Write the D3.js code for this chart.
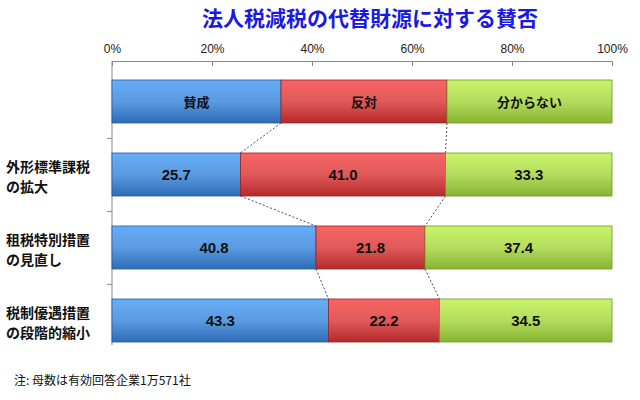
<!DOCTYPE html><html><head><meta charset="utf-8">
<script src="https://cdn.jsdelivr.net/npm/d3@7"></script>
<style>body{margin:0;background:#fff;font-family:"Noto Sans CJK JP",sans-serif}</style></head><body>
<svg id="c" width="640" height="400"></svg>
<script>
const categories=["", "外形標準課税\nの拡大","租税特別措置\nの見直し","税制優遇措置\nの段階的縮小"];
const seriesNames=["賛成","反対","分からない"];
const agree=[33.8,25.7,40.8,43.3];
const oppose=[33.2,41.0,21.8,22.2];
const unknown=[33.0,33.3,37.4,34.5];
const ticks=[0,20,40,60,80,100];
const colors=[["#5b9be0","#2e6cb8"],["#e05a5a","#b52a2a"],["#b5dc5e","#86b431"]];
const svg=d3.select("#c");
const defs=svg.append("defs");
colors.forEach((c,i)=>{const g=defs.append("linearGradient").attr("id","g"+i).attr("x1",0).attr("y1",0).attr("x2",0).attr("y2",1);
g.append("stop").attr("offset","0").attr("stop-color",d3.color(c[0]).brighter(0.3));
g.append("stop").attr("offset","0.5").attr("stop-color",c[0]);
g.append("stop").attr("offset","1").attr("stop-color",c[1]);});
const x=d3.scaleLinear().domain([0,100]).range([112,612]);
const y=d3.scaleBand().domain(d3.range(4)).range([80,342]).paddingInner(30/73).paddingOuter(0);
svg.append("text").attr("x",370).attr("y",26).attr("text-anchor","middle").attr("fill","#1a1adf").attr("font-size",21).attr("font-weight","bold").text("法人税減税の代替財源に対する賛否");
const ax=svg.append("g").attr("transform","translate(0,61)").call(d3.axisTop(x).tickValues(ticks).tickFormat(d=>d+"%").tickSizeInner(-5).tickSizeOuter(0).tickPadding(8));
ax.select(".domain").attr("stroke","#888");ax.selectAll("line").attr("stroke","#888");
ax.selectAll("text").attr("font-size",12).attr("font-family","Liberation Sans, sans-serif").attr("fill","#222");
svg.append("line").attr("x1",112).attr("x2",112).attr("y1",61).attr("y2",345).attr("stroke","#888");
d3.range(1,4).forEach(i=>{const yy=y(i)-y.step()*0.2; svg.append("line").attr("x1",107).attr("x2",112).attr("y1",yy).attr("y2",yy).attr("stroke","#888");});
const data=d3.range(4).map(i=>{const v=[agree[i],oppose[i],unknown[i]];let c=0;return v.map((d,k)=>{const o={k,v:d,x0:c,x1:c+d};c+=d;return o;});});
for(let i=0;i<3;i++){[0,1].forEach(k=>{svg.append("line").attr("x1",x(data[i][k].x1)).attr("y1",y(i)+y.bandwidth()).attr("x2",x(data[i+1][k].x1)).attr("y2",y(i+1)).attr("stroke","#222").attr("stroke-dasharray","2,2").attr("stroke-width",0.8);});}
data.forEach((row,i)=>{row.forEach(s=>{
svg.append("rect").attr("x",x(s.x0)).attr("y",y(i)).attr("width",x(s.x1)-x(s.x0)).attr("height",y.bandwidth()).attr("fill","url(#g"+s.k+")").attr("stroke",d3.color(colors[s.k][1]).darker(0.5)).attr("stroke-width",0.8);
svg.append("text").attr("x",(x(s.x0)+x(s.x1))/2).attr("y",y(i)+y.bandwidth()/2+5).attr("text-anchor","middle").attr("font-size",i==0?13:15).attr("font-weight","bold").attr("fill","#111")
.attr("font-family",i==0?"Noto Sans CJK JP":"Liberation Sans, sans-serif").text(i==0?seriesNames[s.k]:s.v.toFixed(1));
});
if(i>0){const L=categories[i].split("\n");L.forEach((t,j)=>svg.append("text").attr("x",6).attr("y",y(i)+y.bandwidth()/2-3+j*20).attr("font-size",14).attr("font-weight","bold").attr("fill","#111").text(t));}
});
svg.append("text").attr("x",14).attr("y",385).attr("font-size",12).attr("fill","#111").text("注: 母数は有効回答企業1万571社");
</script></body></html>
